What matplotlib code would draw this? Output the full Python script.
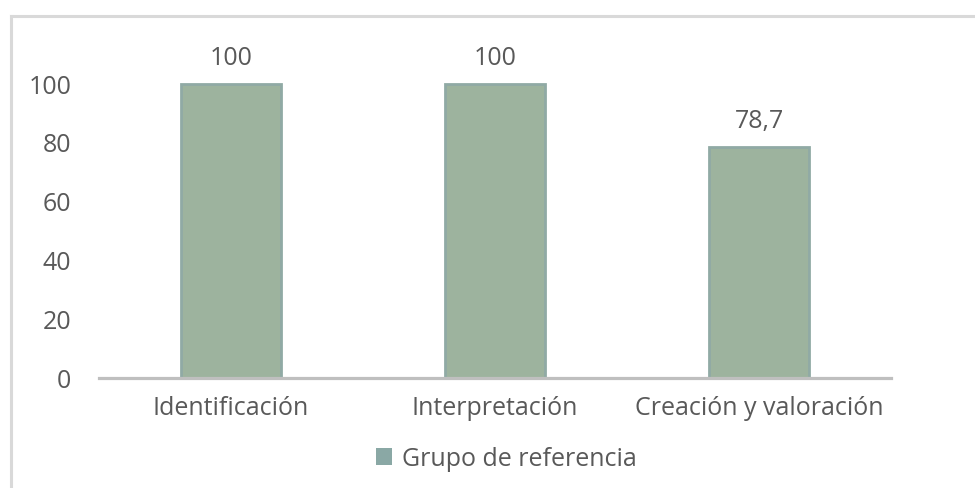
import matplotlib; matplotlib.use('Agg')
import matplotlib.pyplot as plt
from matplotlib.patches import Patch
from matplotlib.lines import Line2D

plt.rcParams['font.family'] = ['Open Sans', 'DejaVu Sans']

categories = ['Identificación', 'Interpretación', 'Creación y valoración']
values = [100, 100, 78.7]
value_labels = ['100', '100', '78,7']
yticks = [0, 20, 40, 60, 80, 100]
series_name = 'Grupo de referencia'

TXT = '#595959'
BAR = '#9db39e'
EDGE = '#90aaa5'
FS = 18

fig = plt.figure(figsize=(9.75, 4.88), dpi=100)
ax = fig.add_axes([99/975, 1-378/488, 792/975, 352.8/488])

x = list(range(len(categories)))
ax.bar(x, values, width=0.382, color=BAR, edgecolor=EDGE, linewidth=2)
for xi, v, lab in zip(x, values, value_labels):
    ax.annotate(lab, xy=(xi, v), xytext=(0, 13.5), textcoords='offset points',
                ha='center', va='baseline', fontsize=FS, color=TXT)

ax.set_xlim(-0.5, 2.5)
ax.set_ylim(0, 120)
ax.set_yticks(yticks)
ax.set_xticks(x)
ax.set_xticklabels(categories)
ax.tick_params(axis='both', length=0, labelsize=FS, colors=TXT)
ax.tick_params(axis='y', pad=20)
ax.tick_params(axis='x', pad=13)
for s in ['top', 'right', 'left']:
    ax.spines[s].set_visible(False)
ax.spines['bottom'].set_color('#bfbfbf')
ax.spines['bottom'].set_linewidth(2.3)

# outer chart frame (left and top edges visible)
fig.add_artist(Line2D([10.5/975, 10.5/975], [0, 1-15.5/488], color='#d9d9d9', lw=2.2, transform=fig.transFigure))
fig.add_artist(Line2D([10.5/975, 1], [1-15.5/488, 1-15.5/488], color='#d9d9d9', lw=2.2, transform=fig.transFigure))

handle = Patch(facecolor='#8aa8a5', edgecolor='none')
fig.legend([handle], [series_name], loc='center', bbox_to_anchor=(506/975, 1-459/488),
           frameon=False, fontsize=FS, labelcolor=TXT, handlelength=0.65, handleheight=0.65,
           handletextpad=0.4, borderpad=0)

fig.savefig('out.png', dpi=100, facecolor='white')
